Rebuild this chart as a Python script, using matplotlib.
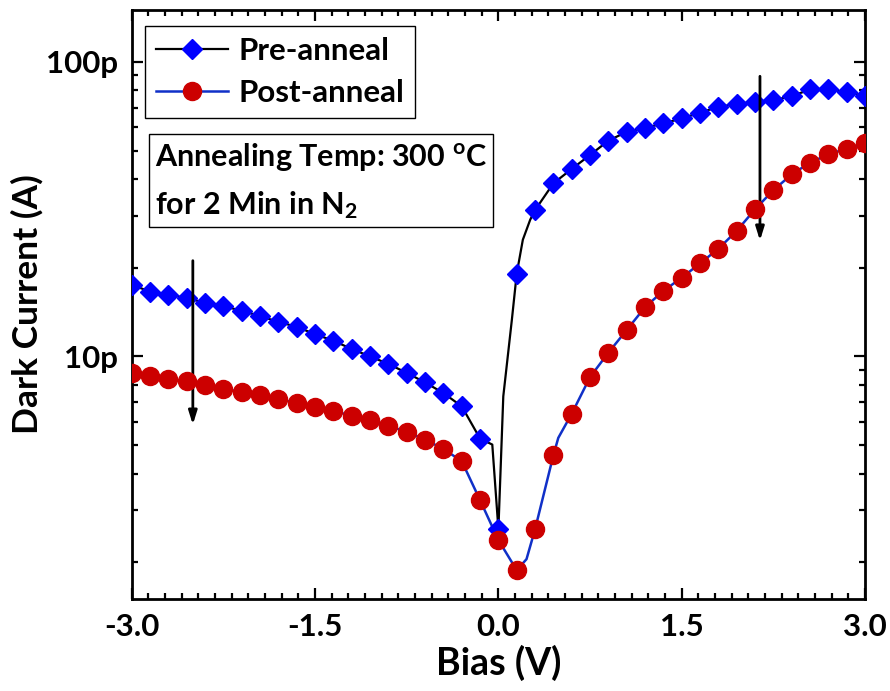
import matplotlib
matplotlib.use("Agg")
import matplotlib.pyplot as plt
from matplotlib.lines import Line2D
from matplotlib.ticker import FixedLocator, FuncFormatter, NullFormatter

plt.rcParams["font.family"] = ["Lato", "DejaVu Sans"]
plt.rcParams["font.weight"] = "bold"
plt.rcParams["mathtext.default"] = "regular"

# bias points for the markers (V)
bias = [-3.0, -2.85, -2.7, -2.55, -2.4, -2.25, -2.1, -1.95, -1.8, -1.65, -1.5,
        -1.35, -1.2, -1.05, -0.9, -0.75, -0.6, -0.45, -0.3, -0.15, 0.0,
        0.15, 0.3, 0.45, 0.6, 0.75, 0.9, 1.05, 1.2, 1.35, 1.5, 1.65, 1.8,
        1.95, 2.1, 2.25, 2.4, 2.55, 2.7, 2.85, 3.0]

# dark current in pA
pre_anneal = [17.5, 16.6, 16.2, 15.8, 15.2, 14.8, 14.3, 13.7, 13.1, 12.6, 11.9,
              11.3, 10.6, 10.0, 9.43, 8.79, 8.16, 7.51, 6.77, 5.26, 2.59,
              19.1, 31.4, 38.7, 43.3, 48.3, 54.0, 57.9, 59.7, 61.8, 64.3, 67.2, 70.4,
              71.9, 73.2, 74.1, 76.5, 80.6, 80.6, 79.1, 76.5]
post_anneal = [8.78, 8.60, 8.38, 8.23, 7.97, 7.77, 7.57, 7.38, 7.17, 6.95, 6.72,
               6.52, 6.30, 6.07, 5.82, 5.54, 5.22, 4.85, 4.41, 3.25, 2.38,
               1.88, 2.59, 4.62, 6.39, 8.51, 10.3, 12.3, 14.7, 16.7, 18.5, 20.7, 23.2,
               26.7, 31.6, 36.7, 41.5, 45.5, 48.5, 50.8, 52.9]

# extra measured points between markers near zero bias
pre_extra_v = [-0.05, 0.04, 0.11, 0.2, 0.26]
pre_extra_i = [5.02, 7.32, 13.3, 24.9, 29.1]
post_extra_v = [0.23, 0.49]
post_extra_i = [2.05, 5.29]

x_ticks = [-3.0, -1.5, 0.0, 1.5, 3.0]
y_ticks = [1e-11, 1e-10]
y_minor = [k * 1e-12 for k in range(2, 10)] + [k * 1e-11 for k in range(2, 10)]

pre_line = sorted(zip(bias + pre_extra_v, pre_anneal + pre_extra_i))
post_line = sorted(zip(bias + post_extra_v, post_anneal + post_extra_i))

fig = plt.figure(figsize=(8.9, 6.91), dpi=100)
ax = fig.add_axes([0.148, 0.133, 0.824, 0.8525])

ax.plot([p[0] for p in pre_line], [p[1] * 1e-12 for p in pre_line], color="black", lw=1.6, zorder=2)
ax.plot(bias, [v * 1e-12 for v in pre_anneal], ls="none", marker="D", ms=10.5, color="#0000ff", zorder=3)
ax.plot([p[0] for p in post_line], [p[1] * 1e-12 for p in post_line], color="#1030c8", lw=1.8, zorder=2)
ax.plot(bias, [v * 1e-12 for v in post_anneal], ls="none", marker="o", ms=13, color="#cc0000", zorder=4)

ax.set_yscale("log")
ax.set_xlim(-3, 3)
ax.set_ylim(1.5e-12, 1.5e-10)

ax.xaxis.set_major_locator(FixedLocator(x_ticks))
ax.xaxis.set_major_formatter(FuncFormatter(lambda v, p: "%.1f" % v))
ax.xaxis.set_minor_locator(FixedLocator([-3 + i * 1.5 / 11 for i in range(45)]))
ax.xaxis.set_minor_formatter(NullFormatter())
ax.yaxis.set_major_locator(FixedLocator(y_ticks))
ax.yaxis.set_minor_locator(FixedLocator(y_minor))
ax.yaxis.set_major_formatter(FuncFormatter(lambda v, p: "%gp" % round(v * 1e12)))
ax.yaxis.set_minor_formatter(NullFormatter())

ax.tick_params(which="both", direction="in", top=True, right=True, width=1.6)
ax.tick_params(which="major", length=8, labelsize=22.5, pad=10)
ax.tick_params(which="minor", length=4.5)
for s in ax.spines.values():
    s.set_linewidth(2)

ax.set_xlabel("Bias (V)", fontsize=27, fontweight="bold", labelpad=3)
ax.set_ylabel("Dark Current (A)", fontsize=25.5, fontweight="bold")
ax.yaxis.set_label_coords(-0.12, 0.5)

# arrows showing decrease
ax.annotate("", xy=(-2.5, 5.74e-12), xytext=(-2.5, 21.6e-12),
            arrowprops=dict(arrowstyle="-|>,head_length=0.8,head_width=0.25", lw=2, color="black"))
ax.annotate("", xy=(2.14, 24.2e-12), xytext=(2.14, 91.3e-12),
            arrowprops=dict(arrowstyle="-|>,head_length=0.8,head_width=0.25", lw=2, color="black"))

h1 = Line2D([], [], color="black", lw=1.6, marker="D", ms=10.5, mfc="#0000ff", mec="#0000ff")
h2 = Line2D([], [], color="#1030c8", lw=1.8, marker="o", ms=13, mfc="#cc0000", mec="#cc0000")
leg = ax.legend([h1, h2], ["Pre-anneal", "Post-anneal"], loc="upper left",
                bbox_to_anchor=(0.018, 0.973), borderaxespad=0, fontsize=22.5,
                fancybox=False, edgecolor="black", framealpha=1, handlelength=2.3,
                handletextpad=0.35, labelspacing=0.45, borderpad=0.35)
leg.get_frame().set_linewidth(1)

ax.text(0.032, 0.778, "Annealing Temp: 300 $^{o}$C\nfor 2 Min in N$_2$", transform=ax.transAxes,
        fontsize=22, fontweight="bold", va="top", ha="left", linespacing=1.65,
        bbox=dict(boxstyle="square,pad=0.2", fc="white", ec="black", lw=1))

fig.savefig("out.png", dpi=100)
